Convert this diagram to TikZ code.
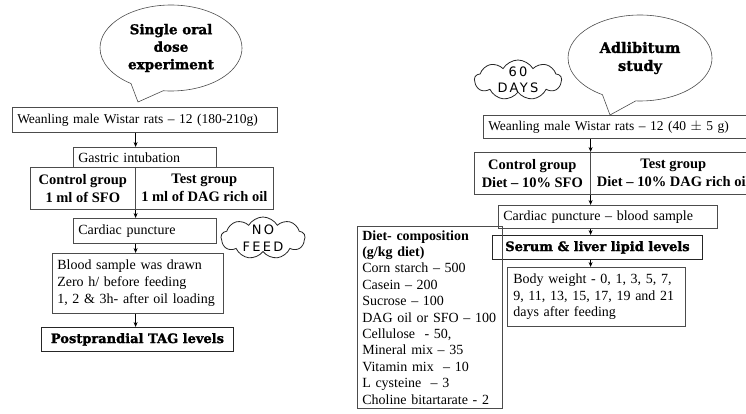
\documentclass[tikz,border=0pt]{standalone}
\usepackage{fontspec}
\setmainfont{Liberation Serif}
\newfontfamily\heavyfont[BoldFeatures={FakeBold=1.5}]{DejaVu Serif}
\newfontfamily\cloudfont[LetterSpace=18]{DejaVu Sans}
\usetikzlibrary{shapes.symbols,shapes.callouts,arrows.meta}
\begin{document}
\begin{tikzpicture}[x=1pt,y=-1pt,
	box/.style={draw=black!70,line width=0.6pt,inner xsep=5pt,inner ysep=0pt,anchor=north west,
		align=left,font=\fontsize{14}{16.7}\selectfont},
	heavy/.style={box,align=center,line width=0.9pt,draw=black!85,
		font=\heavyfont\bfseries\fontsize{13}{15}\selectfont},
	grp/.style={box,align=center,font=\bfseries\fontsize{14.5}{18}\selectfont},
	bubble/.style={ellipse callout,draw=black!70,line width=0.6pt,callout pointer arc=28,
		align=center,font=\heavyfont\bfseries\fontsize{13.5}{17.5}\selectfont},
	puff/.style={cloud,cloud puffs=9,cloud puff arc=120,aspect=2,draw=black!85,line width=0.8pt,
		align=center,inner sep=-6pt,font=\cloudfont\fontsize{13}{16.5}\selectfont},
	arr/.style={-{Stealth[length=5pt,width=4pt]},line width=0.8pt}]
\useasboundingbox (0,0) rectangle (746,413);
\clip (0,0) rectangle (746,413);
% single oral dose
\node[bubble,minimum width=142,minimum height=86,callout absolute pointer={(138,102)}]
	(bub1) at (171,48) {Single oral\\dose\\experiment};
\node[box,minimum height=25,text width=255,font=\fontsize{13.5}{16}\selectfont] (wean1) at (12,107)
	{Weanling male Wistar rats -- 12 (180-210g)};
\node[box,minimum height=20,text width=133] (gi1) at (73,147) {Gastric intubation};
\node[grp,minimum width=105,minimum height=42] (ctl1) at (30,167) {Control group\\1 ml of SFO};
\node[grp,minimum width=138,minimum height=42] (tst1) at (135,167) {Test group\\1 ml of DAG rich oil};
\node[box,minimum height=25,text width=133] (cp1) at (73,218) {Cardiac puncture};
\node[puff,minimum width=84,minimum height=42] (nofeed) at (263,238) {NO\\FEED};
\node[box,minimum height=60,text width=161] (blood1) at (52,253)
	{Blood sample was drawn\\Zero h/ before feeding\\1, 2 \& 3h- after oil loading};
\node[heavy,minimum width=192,minimum height=24] (tag1) at (41,327) {Postprandial TAG levels};
\draw[arr] (wean1.south -| ctl1.east) -- (gi1.north -| ctl1.east);
\draw[arr] (ctl1.south east) -- (cp1.north -| ctl1.east);
\draw[arr] (cp1.south -| ctl1.east) -- (blood1.north -| ctl1.east);
\draw[arr] (blood1.south -| ctl1.east) -- (tag1.north -| ctl1.east);
% adlibitum
\node[bubble,minimum width=144,minimum height=86,callout absolute pointer={(610,115)},
	font=\heavyfont\bfseries\fontsize{14.5}{18}\selectfont]
	(bub2) at (640,58) {Adlibitum\\study};
\node[puff,minimum width=87,minimum height=40] (days) at (518,80) {60\\DAYS};
\node[box,minimum height=23,text width=270,font=\fontsize{13.5}{16}\selectfont] (wean2) at (483,115)
	{Weanling male Wistar rats -- 12 (40 $\pm$ 5 g)};
\node[grp,minimum width=116,minimum height=42] (ctl2) at (474,152) {Control group\\Diet -- 10\% SFO};
\node[grp,minimum width=166,minimum height=42] (tst2) at (590,152) {Test group\\Diet -- 10\% DAG rich oil};
\node[box,minimum height=23,text width=209] (cp2) at (498,205) {Cardiac puncture -- blood sample};
\node[heavy,minimum width=210,minimum height=24] (serum2) at (492,235) {Serum \& liver lipid levels};
\node[box,minimum height=59,inner xsep=6pt,text width=166] (body2) at (507,267)
	{Body weight - 0, 1, 3, 5, 7,\\9, 11, 13, 15, 17, 19 and 21\\days after feeding};
\node[box,inner xsep=5pt,text width=135,inner ysep=4pt,font=\fontsize{14}{16.4}\selectfont]
	(diet2) at (357,226)
	{\textbf{Diet- composition}\\\textbf{(g/kg diet)}\\Corn starch -- 500\\Casein -- 200\\Sucrose -- 100\\
	DAG oil or SFO -- 100\\Cellulose \ - 50,\\Mineral mix -- 35\\Vitamin mix \ -- 10\\L cysteine \ -- 3\\
	Choline bitartarate - 2\\[40pt]};
\draw[arr] (wean2.south -| ctl2.east) -- (ctl2.north east);
\draw[arr] (ctl2.south east) -- (cp2.north -| ctl2.east);
\draw[arr] (cp2.south -| ctl2.east) -- (serum2.north -| ctl2.east);
\draw[arr] (serum2.south -| ctl2.east) -- (body2.north -| ctl2.east);
\end{tikzpicture}
\end{document}
